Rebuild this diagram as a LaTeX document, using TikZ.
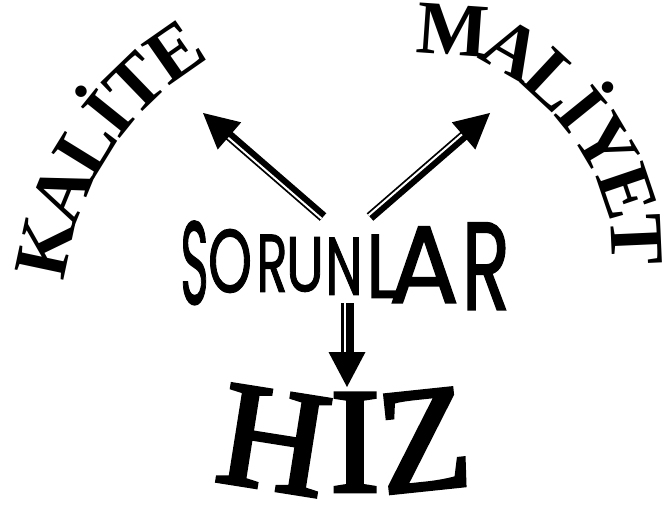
\documentclass[tikz,border=0pt]{standalone}
\usepackage{fontspec}
\usepackage{graphicx}
\setmainfont{Liberation Serif}
\newfontfamily\pop[FakeBold=1.5]{Poppins}
\newfontfamily\hizfont[FakeBold=2.5]{Liberation Serif}
\usetikzlibrary{calc,decorations.markings}
\tikzset{
  arcletter/.style={inner sep=0pt, font=\bfseries\fontsize{76bp}{76bp}\selectfont,
    text height=49.8bp, text depth=0pt, anchor=center, transform shape},
  hizletter/.style={inner sep=0pt, font=\hizfont\fontsize{150bp}{150bp}\selectfont,
    text height=99bp, text depth=0pt, anchor=center, transform shape},
  sorletter/.style={inner sep=0pt, anchor=south},
  shaft/.style={line width=#1, black},
  gap/.style={line width=#1, white},
  headfill/.style={fill=black},
}
\newcommand{\sorl}[3]{\resizebox{#1bp}{#2bp}{\pop #3}}
% #1 start, #2 tip, #3 shaft width, #4 white offset, #5 head length, #6 head half width, #7 gap width
\newcommand{\hollowarrow}[7]{%
  \coordinate (hb) at ($(#2)!#5!(#1)$);
  \draw[shaft=#3] (#1) -- ($(hb)!-3bp!(#1)$);
  \draw[gap=#7] ($(#1)!#4!90:(#2)$) -- ($(hb)!#4!-90:(#1)$);
  \fill[headfill] (#2) -- ($(hb)!#6!90:(#2)$) -- ($(hb)!#6!-90:(#2)$) -- cycle;
}
\begin{document}
\begin{tikzpicture}[x=1bp,y=-1bp]
\useasboundingbox (0,0) rectangle (668,506);
% KALITE along an arc (path runs a little past the last letter)
\path[decorate, decoration={markings,
  mark=at position 0.0001 with {\node[arcletter] (k1) {K};},
  mark=at position 0.2281 with {\node[arcletter] (k2) {A};},
  mark=at position 0.4394 with {\node[arcletter] (k3) {L};},
  mark=at position 0.5999 with {\node[arcletter] (k4) {İ};},
  mark=at position 0.7603 with {\node[arcletter] (k5) {T};},
  mark=at position 0.9631 with {\node[arcletter] (k6) {E};}}]
  (45,247.5) arc[start angle=192, end angle=236.7, radius=320];
% MALIYET along a curve
\path[decorate, decoration={markings,
  mark=at position 0.0001 with {\node[arcletter] (m1) {M};},
  mark=at position 0.2099 with {\node[arcletter] (m2) {A};},
  mark=at position 0.3846 with {\node[arcletter] (m3) {L};},
  mark=at position 0.5172 with {\node[arcletter] (m4) {İ};},
  mark=at position 0.6578 with {\node[arcletter] (m5) {Y};},
  mark=at position 0.8322 with {\node[arcletter] (m6) {E};},
  mark=at position 0.9950 with {\node[arcletter] (m7) {T};}}]
  (453,30) .. controls (540,36) and (634,151) .. (637,241);
% SORUNLAR
\node[sorletter] (s1) at (194.5,305) {\sorl{28}{83}{S}};
\node[sorletter] (s2) at (230,293) {\sorl{44}{63}{O}};
\node[sorletter] (s3) at (272,292) {\sorl{31}{57}{R}};
\node[sorletter] (s4) at (305,292) {\sorl{38}{54}{U}};
\node[sorletter] (s5) at (344,295) {\sorl{37}{57}{N}};
\node[sorletter] (s6) at (382,298) {\sorl{31}{63}{L}};
\node[sorletter] (s7) at (424,303) {\sorl{70}{76}{A}};
\node[sorletter] (s8) at (486,310) {\sorl{48}{87}{R}};
% HIZ
\node[hizletter, rotate=-9] (h1) at (274,440) {H};
\node[hizletter] (h2) at (355,442) {I};
\node[hizletter, rotate=6] (h3) at (424,440) {Z};
% arrows
\coordinate (ks) at (323,217);
\coordinate (kt) at (203,113);
\coordinate (ms) at (370,217);
\coordinate (mt) at (490,113);
\coordinate (hs) at (347,303);
\coordinate (ht) at (347,387);
\hollowarrow{ks}{kt}{10bp}{2.2bp}{35bp}{18bp}{2bp}
\hollowarrow{ms}{mt}{10bp}{2.2bp}{35bp}{18bp}{2bp}
\hollowarrow{hs}{ht}{13bp}{-2.3bp}{35bp}{18.5bp}{2.4bp}
\end{tikzpicture}
\end{document}
